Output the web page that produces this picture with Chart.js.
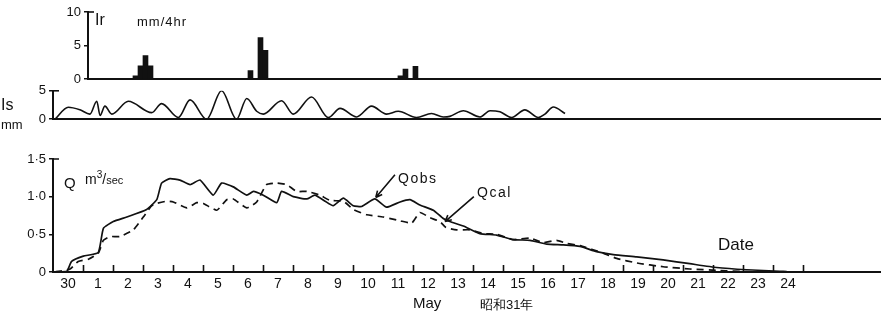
<!DOCTYPE html>
<html lang="ja">
<head>
<meta charset="UTF-8">
<title>Ir / Is / Q hydrograph, May</title>
<script src="https://cdn.jsdelivr.net/npm/chart.js"></script>
<style>
  html, body { margin: 0; padding: 0; background: #fff; }
  #wrap { position: relative; width: 882px; height: 314px; overflow: hidden;
          font-family: "Liberation Sans", Arial, sans-serif; color: #111; }
  #wrap canvas { position: absolute; left: 0; }
  .t { position: absolute; white-space: nowrap; line-height: 1; }
</style>
</head>
<body>
<div id="wrap">
  <canvas id="rain" width="882" height="90" style="top:0px"></canvas>
  <canvas id="soil" width="882" height="50" style="top:80px"></canvas>
  <canvas id="flow" width="882" height="184" style="top:130px"></canvas>

  <div class="t" style="left:95px;top:12px;font-size:16px">Ir</div>
  <div class="t" style="left:137px;top:15px;font-size:13px;letter-spacing:1px">mm/4hr</div>
  <div class="t" style="left:1px;top:97px;font-size:16px">Is</div>
  <div class="t" style="left:1px;top:118px;font-size:13px">mm</div>
  <div class="t" style="left:64px;top:175px;font-size:15px">Q</div>
  <div class="t" style="left:85px;top:170px;font-size:14px">m<sup style="font-size:10px">3</sup>/<span style="font-size:11px">sec</span></div>
  <div class="t" style="left:398px;top:171px;font-size:14px;letter-spacing:1.5px">Qobs</div>
  <div class="t" style="left:477px;top:185px;font-size:14px;letter-spacing:1.5px">Qcal</div>
  <div class="t" style="left:718px;top:236px;font-size:17px">Date</div>
  <div class="t" style="left:413px;top:295px;font-size:15px">May</div>
  <div class="t" style="left:480px;top:298px;font-size:13px">昭和31年</div>
</div>

<script>
  // x values are days counted from 30 April 00:00
  const dayLabels = ['30', '1', '2', '3', '4', '5', '6', '7', '8', '9', '10', '11', '12',
                     '13', '14', '15', '16', '17', '18', '19', '20', '21', '22', '23', '24'];

  // rainfall Ir, 4-hour bins (bin centre, mm/4hr)
  const rainTime = [2.75, 2.917, 3.083, 3.25, 6.583, 6.917, 7.083, 11.583, 11.75, 12.083];
  const rainMm   = [0.5, 2.0, 3.5, 2.0, 1.3, 6.2, 4.3, 0.5, 1.5, 1.9];

  // Is, mm
  const isTime = [0.07, 0.51, 0.9, 1.23, 1.46, 1.57, 1.73, 1.96, 2.51, 3.29, 3.62, 4.18, 4.57,
                  5.12, 5.62, 6.12, 6.46, 6.79, 7.01, 7.62, 8.01, 8.62, 9.18, 9.57, 10.12,
                  10.62, 11.12, 11.51, 12.12, 12.62, 13.01, 13.23, 13.68, 14.23, 14.57, 14.9,
                  15.29, 15.73, 16.18, 16.4, 16.68, 17.07];
  const isMm   = [0, 2.1, 1.65, 0.9, 3.15, 0.65, 2.3, 0.9, 3.15, 1.15, 2.75, 0.3, 3.4,
                  0.0, 5.0, 0.0, 3.65, 1.4, 0.9, 3.25, 0.9, 3.9, 0.3, 1.9, 0.4,
                  2.3, 0.9, 1.4, 0.3, 1.0, 0.4, 0.5, 1.5, 0.4, 1.5, 1.3,
                  0.3, 1.65, 0.3, 0.9, 2.15, 1.0];

  // observed discharge, m3/sec
  const qObsTime = [0.07, 0.46, 0.62, 1.01, 1.51, 1.68, 2.01, 2.46, 3.12, 3.46, 3.62, 3.9, 4.23,
                    4.57, 4.9, 5.34, 5.62, 6.01, 6.46, 6.68, 7.01, 7.46, 7.62, 8.01, 8.46, 8.73,
                    9.07, 9.34, 9.68, 10.01, 10.29, 10.73, 11.12, 11.57, 11.9, 12.23, 12.68,
                    13.01, 13.23, 13.68, 14.23, 14.79, 15.34, 15.9, 16.46, 17.01, 17.57, 18.12,
                    18.68, 19.46, 20.34, 21.23, 22.12, 23.12, 24.23, 24.46];
  const qObsVal  = [0, 0.01, 0.14, 0.21, 0.26, 0.58, 0.67, 0.73, 0.83, 0.96, 1.18, 1.24, 1.22,
                    1.16, 1.22, 1.02, 1.18, 1.13, 1.02, 1.07, 1.02, 0.92, 1.07, 1.0, 0.97, 1.02,
                    0.94, 0.88, 0.98, 0.88, 0.87, 0.97, 0.86, 0.93, 0.96, 0.89, 0.82,
                    0.71, 0.67, 0.61, 0.51, 0.49, 0.43, 0.42, 0.37, 0.36, 0.34, 0.27,
                    0.23, 0.20, 0.16, 0.11, 0.06, 0.03, 0.01, 0.005];

  // calculated discharge, m3/sec
  const qCalTime = [0.07, 0.57, 0.84, 1.18, 1.51, 1.68, 1.9, 2.23, 2.68, 3.01, 3.29, 3.46, 3.79,
                    4.01, 4.46, 4.79, 5.01, 5.46, 5.79, 6.01, 6.46, 6.79, 7.12, 7.46, 7.79,
                    8.12, 8.46, 8.9, 9.23, 9.68, 10.01, 10.46, 11.01, 11.57, 11.96, 12.23,
                    12.57, 12.9, 13.1, 13.46, 13.9, 14.34, 14.79, 15.34, 15.9, 16.34, 16.79,
                    17.12, 17.57, 18.34, 18.79, 19.46, 20.34, 21.23, 22.23, 23.12, 23.67];
  const qCalVal  = [0, 0.04, 0.14, 0.17, 0.25, 0.42, 0.47, 0.47, 0.56, 0.73, 0.88, 0.91, 0.94,
                    0.93, 0.85, 0.92, 0.91, 0.82, 0.96, 0.97, 0.85, 0.93, 1.16, 1.18, 1.16,
                    1.07, 1.07, 1.02, 0.95, 0.94, 0.83, 0.76, 0.73, 0.68, 0.65, 0.79,
                    0.72, 0.67, 0.59, 0.56, 0.56, 0.51, 0.50, 0.43, 0.45, 0.39, 0.42,
                    0.38, 0.35, 0.25, 0.18, 0.12, 0.07, 0.04, 0.02, 0.005, 0];

  const X_MAX = 27.57;
  const INK = '#111';

  Chart.defaults.font.family = '"Liberation Sans", Arial, sans-serif';
  Chart.defaults.font.size = 13;
  Chart.defaults.color = INK;

  const pts = (xs, ys) => xs.map((x, i) => ({ x, y: ys[i] }));

  // hook at the top of the y axis, upward tick marks on x, pointer arrows
  const axisMarks = {
    id: 'axisMarks',
    afterDraw(chart, args, opts) {
      const { ctx, chartArea: a, scales: { x, y } } = chart;
      ctx.save();
      ctx.strokeStyle = INK;
      ctx.lineWidth = 1.6;
      ctx.beginPath();
      ctx.moveTo(a.left, a.top);
      ctx.lineTo(a.left + 6, a.top);
      (opts.ticks || []).forEach(v => {
        const px = Math.round(x.getPixelForValue(v)) + 0.5;
        ctx.moveTo(px, a.bottom);
        ctx.lineTo(px, a.bottom - 7);
      });
      (opts.arrows || []).forEach(([x1, y1, x2, y2]) => {
        const p1 = [x.getPixelForValue(x1), y.getPixelForValue(y1)];
        const p2 = [x.getPixelForValue(x2), y.getPixelForValue(y2)];
        const ang = Math.atan2(p2[1] - p1[1], p2[0] - p1[0]);
        ctx.moveTo(p1[0], p1[1]);
        ctx.lineTo(p2[0], p2[1]);
        [-0.45, 0.45].forEach(d => {
          ctx.moveTo(p2[0], p2[1]);
          ctx.lineTo(p2[0] - 7 * Math.cos(ang + d), p2[1] - 7 * Math.sin(ang + d));
        });
      });
      ctx.stroke();
      ctx.restore();
    }
  };

  function xAxis(min, height, labels) {
    const axis = {
      type: 'linear', min, max: X_MAX, offset: false,
      grid: { display: false, drawTicks: false },
      border: { display: true, color: INK, width: 2 },
      ticks: { display: false },
      afterFit: s => { s.height = height; }
    };
    if (labels) {
      axis.afterBuildTicks = s => { s.ticks = dayLabels.map((_, i) => ({ value: i + 0.5 })); };
      axis.ticks = {
        display: true, autoSkip: false, maxRotation: 0, padding: 4,
        font: { size: 14 },
        callback: (v, i) => dayLabels[i]
      };
    }
    return axis;
  }

  function yAxis(max, values, width, fmt) {
    return {
      min: 0, max,
      afterBuildTicks: s => { s.ticks = values.map(value => ({ value })); },
      grid: { drawOnChartArea: false, tickLength: 4, color: INK, lineWidth: 1.5 },
      border: { display: true, color: INK, width: 2 },
      ticks: { padding: 3, callback: fmt || (v => v) },
      afterFit: s => { s.width = width; }
    };
  }

  const baseOpts = {
    responsive: false,
    devicePixelRatio: 1,
    animation: false,
    events: []
  };

  new Chart(document.getElementById('rain'), {
    type: 'bar',
    data: {
      datasets: [{
        data: pts(rainTime, rainMm),
        backgroundColor: INK,
        barThickness: 5
      }]
    },
    options: {
      ...baseOpts,
      layout: { padding: { top: 12, right: 2 } },
      scales: { x: xAxis(35 / 30, 8, false), y: yAxis(10, [0, 5, 10], 88) },
      plugins: { legend: { display: false }, tooltip: { enabled: false }, axisMarks: {} }
    },
    plugins: [axisMarks]
  });

  new Chart(document.getElementById('soil'), {
    type: 'line',
    data: {
      datasets: [{
        data: pts(isTime, isMm),
        borderColor: INK, borderWidth: 1.6, pointRadius: 0,
        cubicInterpolationMode: 'monotone'
      }]
    },
    options: {
      ...baseOpts,
      layout: { padding: { top: 7, right: 2 } },
      scales: { x: xAxis(0, 10, false), y: yAxis(5, [0, 5], 53) },
      plugins: { legend: { display: false }, tooltip: { enabled: false }, axisMarks: {} }
    },
    plugins: [axisMarks]
  });

  new Chart(document.getElementById('flow'), {
    type: 'line',
    data: {
      datasets: [{
        label: 'Qobs',
        data: pts(qObsTime, qObsVal),
        borderColor: INK, borderWidth: 1.7, pointRadius: 0, tension: 0.15
      }, {
        label: 'Qcal',
        data: pts(qCalTime, qCalVal),
        borderColor: INK, borderWidth: 1.7, pointRadius: 0, tension: 0.15,
        borderDash: [7, 5]
      }]
    },
    options: {
      ...baseOpts,
      layout: { padding: { top: 29, right: 2 } },
      scales: {
        x: xAxis(0, 42, true),
        y: yAxis(1.5, [0, 0.5, 1, 1.5], 53, v => v === 0 ? '0' : v.toFixed(1).replace('.', '·'))
      },
      plugins: {
        legend: { display: false }, tooltip: { enabled: false },
        axisMarks: {
          ticks: Array.from({ length: 25 }, (_, i) => i + 1),
          arrows: [[11.4, 1.29, 10.76, 0.99], [14.03, 1.0, 13.07, 0.67]]
        }
      }
    },
    plugins: [axisMarks]
  });
</script>
</body>
</html>
